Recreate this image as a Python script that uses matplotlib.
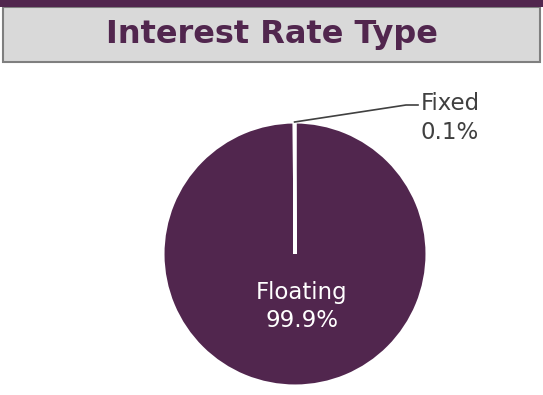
import numpy as np
import matplotlib.pyplot as plt
from matplotlib.patches import Rectangle

# Interest rate type split (share of portfolio, %)
labels = ['Floating', 'Fixed']
shares = [99.9, 0.1]

purple = '#51264e'
W, H = 543, 395

fig = plt.figure(figsize=(W / 100, H / 100), dpi=100)
fig.patch.set_facecolor('white')

# Header band and title box
fig.patches.append(Rectangle((0, 1 - 7 / H), 1, 7 / H, transform=fig.transFigure,
                             facecolor=purple, edgecolor='none', zorder=2))
fig.patches.append(Rectangle((3 / W, 1 - 62 / H), 537 / W, 55 / H, transform=fig.transFigure,
                             facecolor='#d9d9d9', edgecolor='#7f7f7f', linewidth=1.5, zorder=1))
fig.text(272 / W, 1 - 35 / H, 'Interest Rate Type', ha='center', va='center',
         fontsize=23, fontweight='bold', color=purple)

# Pie area: centre (295, 254) px, radius 132 px
cx, cy, r = 295, 254, 132
ax = fig.add_axes([(cx - r) / W, (H - cy - r) / H, 2 * r / W, 2 * r / H])
wedges, _ = ax.pie(shares, colors=[purple, purple], startangle=90, counterclock=False,
                   wedgeprops=dict(edgecolor='white', linewidth=2.2))
ax.set_xlim(-1, 1)
ax.set_ylim(-1, 1)
ax.set_aspect('equal')
ax.axis('off')

# Floating label inside the slice
w = wedges[0]
mid = np.deg2rad((w.theta1 + w.theta2) / 2)
ax.text(0.4 * np.cos(mid) + 0.05, 0.4 * np.sin(mid), f'{labels[0]}\n{shares[0]:.1f}%',
        ha='center', va='center', fontsize=16.5, color='white', linespacing=1.3)

# Fixed label outside with a leader line
w = wedges[1]
mid = np.deg2rad((w.theta1 + w.theta2) / 2)
tip = (np.cos(mid), np.sin(mid))
tx, ty = (421 - cx) / r, (cy - 118) / r
ax.plot([tip[0], (406 - cx) / r, (418 - cx) / r], [tip[1], (cy - 105) / r, (cy - 105) / r],
        color='#404040', linewidth=1.2, clip_on=False)
ax.text(tx, ty, f'{labels[1]}\n{shares[1]:.1f}%', ha='left', va='center',
        fontsize=16.5, color='#404040', linespacing=1.3)

fig.savefig('out.png', dpi=100)
